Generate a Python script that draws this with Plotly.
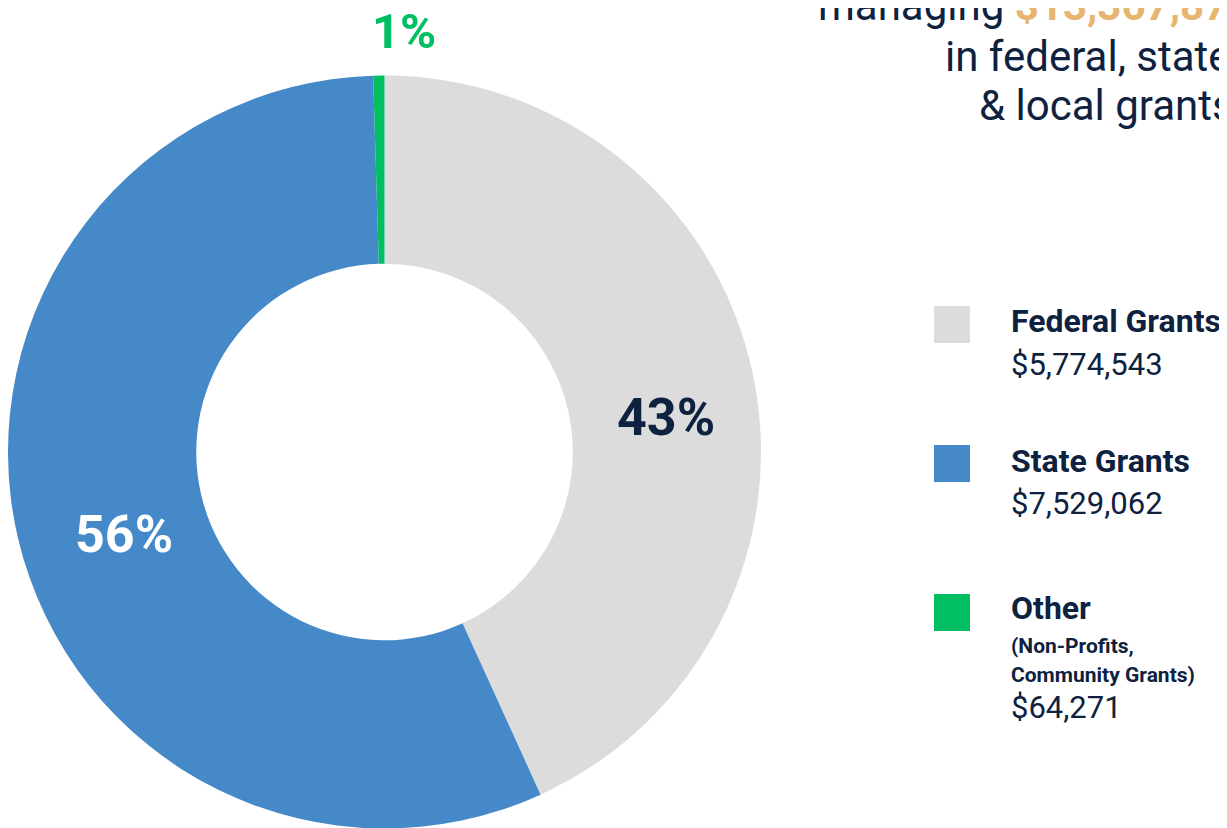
import plotly.graph_objects as go

# ---- data ----
categories = ["Federal Grants", "State Grants", "Other"]
amounts = [5774543, 7529062, 64271]
amount_labels = ["$5,774,543", "$7,529,062", "$64,271"]
pct_labels = ["43%", "56%", "1%"]
colors = ["#DCDCDC", "#4589C8", "#00BF63"]
total_label = "$13,367,876"

W, H = 1227, 828
OFF = 8  # page body margin offset
NAVY = "#0E2240"
GOLD = "#E6B56F"
FONT = "Roboto"


def px(x):
    return (x - OFF) / W


def py(y):
    return 1 - (y - OFF) / H


fig = go.Figure()
fig.add_trace(go.Pie(
    labels=categories,
    values=amounts,
    marker=dict(colors=colors, line=dict(width=0)),
    hole=0.5,
    sort=False,
    direction="clockwise",
    rotation=0,
    textinfo="none",
    showlegend=False,
    domain=dict(x=[px(8), px(8 + 753)], y=[py(75 + 754), py(75)]),
))

annotations = []
# percent labels
pct_pos = [(666, 417, NAVY, 52), (124, 534, "white", 52), (404, 31, colors[2], 49)]
for lab, (x, y, c, s) in zip(pct_labels, pct_pos):
    annotations.append(dict(x=px(x), y=py(y), xref="paper", yref="paper", showarrow=False,
                            text="<b>" + lab + "</b>", font=dict(family=FONT, size=s, color=c),
                            xanchor="center", yanchor="middle"))

# header text (cropped at right edge)
head = [
    ("managing <b><span style='color:%s'>%s</span></b>" % (GOLD, total_label), 816, 6),
    ("in federal, state", 943, 56),
    ("&amp; local grants", 977, 106),
]
for t, x, y in head:
    annotations.append(dict(x=px(x), y=py(y), xref="paper", yref="paper", showarrow=False,
                            text=t, font=dict(family=FONT, size=42, color=NAVY),
                            xanchor="left", yanchor="middle", align="left"))

# legend
shapes = []
sq_tops = [306, 445, 594]
for c, top in zip(colors, sq_tops):
    shapes.append(dict(type="rect", xref="paper", yref="paper",
                       x0=px(934), x1=px(970), y0=py(top + 37), y1=py(top),
                       fillcolor=c, line=dict(width=0)))

leg_text = [
    ("<b>" + categories[0] + "</b>", 321, 32),
    (amount_labels[0], 364, 31),
    ("<b>" + categories[1] + "</b>", 461, 32),
    (amount_labels[1], 503, 31),
    ("<b>" + categories[2] + "</b>", 608, 32),
    ("<b>(Non-Profits,</b>", 646, 21),
    ("<b>Community Grants)</b>", 675, 21),
    (amount_labels[2], 707, 31),
]
for t, y, s in leg_text:
    annotations.append(dict(x=px(1009), y=py(y), xref="paper", yref="paper", showarrow=False,
                            text=t, font=dict(family=FONT, size=s, color=NAVY),
                            xanchor="left", yanchor="middle", align="left"))

fig.update_layout(
    width=W, height=H,
    margin=dict(l=0, r=0, t=0, b=0),
    paper_bgcolor="white", plot_bgcolor="white",
    annotations=annotations, shapes=shapes,
)

fig.write_html("out.html")
